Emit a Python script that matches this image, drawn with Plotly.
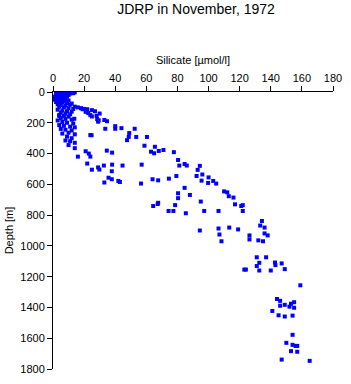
import plotly.graph_objects as go

# Silicate [µmol/l] and depth [m]
silicate = [
    2, 4, 6, 8, 10, 12, 14, 3, 5, 7, 9, 11, 13, 2, 4, 6, 8, 10, 1, 3, 5, 7, 9,
    2, 4, 6, 8, 1, 3, 5, 7, 10, 2, 4, 6, 9, 12, 3, 5, 8, 11, 14, 16, 18, 20,
    22, 25, 4, 7, 10, 13, 3, 6, 9, 12, 5, 8, 11, 4, 7, 10, 27, 30, 24, 28,
    5, 8, 12, 3, 6, 9, 13, 4, 7, 11, 14, 5, 8, 12, 10, 6, 14, 24, 9, 12, 8,
    11, 14, 10, 14, 16, 21, 23, 24, 22, 25, 29,
    19, 21, 22.7, 25, 28.4, 29, 13.7, 4, 24.8,
    29.4, 33, 34.7, 33.6, 40, 40, 44, 49, 52.5, 48.7, 53.5, 47.6, 60.4, 58.8,
    65.5, 63, 65, 34.6, 38, 32.7, 38, 44.7, 57, 37.8, 29.8, 35.7, 37.8, 33,
    42, 43, 56.6, 64,
    68, 71, 77.7, 80.4, 81.2, 84.6, 86, 94.4, 93, 92.3, 96, 95.5, 99.7, 100,
    103, 104.9, 79.3, 74.5, 67.6, 84.6, 80.4, 80.4, 88, 95, 110, 112, 113,
    116, 67.6,
    64.4, 67.3, 78.5, 74.3, 77.4, 85.4, 97.2, 106.4, 94.4, 106.4, 107, 108.3,
    113.3, 119, 117, 121, 122, 122, 123,
    134.3, 133.2, 136, 136, 138, 126.3, 126.3, 132, 135, 131, 137, 132.6, 131,
    124, 132.6, 140, 142.7, 143, 147, 149, 159,
    144, 146, 146, 149, 152, 153, 155, 155, 141, 145, 149, 154, 154, 150, 154,
    156, 157, 153, 157, 147, 165,
]
depth = [
    0, 0, 0, 0, 0, 0, 2, 10, 10, 12, 10, 10, 8, 20, 20, 22, 20, 20, 30, 30,
    32, 30, 30, 40, 42, 40, 45, 50, 55, 50, 58, 55, 65, 70, 68, 72, 75, 80,
    85, 88, 82, 95, 100, 105, 110, 112, 118, 95, 100, 105, 110, 115, 120, 125,
    128, 135, 140, 145, 150, 155, 160, 125, 140, 150, 155, 170, 175, 180, 185,
    195, 200, 205, 215, 220, 225, 230, 240, 245, 250, 265, 270, 275, 280, 290,
    300, 315, 320, 330, 345, 365, 420, 385, 400, 420, 465, 505, 490,
    112, 129, 137, 159, 176, 193, 174, 155, 281,
    184, 182, 190, 239, 222, 239, 235, 267, 239, 292, 292, 313, 292, 349,
    356, 388, 398, 381, 394, 478, 472, 478, 472, 515, 504, 557, 567, 588,
    578, 585, 595, 567,
    383, 377, 391, 442, 478, 468, 478, 480, 506, 546, 536, 576, 591, 555,
    578, 595, 546, 563, 574, 623, 658, 690, 669, 712, 646, 652, 677,
    686, 720,
    741, 728, 735, 773, 773, 788, 773, 773, 900, 887, 926, 970,
    881, 893, 730, 741, 735, 773, 1154,
    838, 868, 881, 919, 932, 932, 958, 964, 970, 1074, 1074, 1110, 1131,
    1154, 1160, 1160, 1108, 1125, 1114, 1151, 1256,
    1345, 1357, 1389, 1383, 1395, 1376, 1366, 1402, 1423, 1451, 1459, 1453,
    1578, 1630, 1643, 1650, 1650, 1684, 1688, 1739, 1747,
]

x_ticks = [0, 20, 40, 60, 80, 100, 120, 140, 160, 180]
y_ticks = [0, 200, 400, 600, 800, 1000, 1200, 1400, 1600, 1800]

FONT = "Liberation Sans, Arial, sans-serif"

fig = go.Figure(
    go.Scatter(
        x=silicate,
        y=depth,
        mode="markers",
        marker=dict(symbol="square", size=4, color="#0000ff", line=dict(width=0)),
        showlegend=False,
    )
)

fig.update_layout(
    width=351,
    height=384,
    margin=dict(l=53, r=12, t=92, b=9),
    paper_bgcolor="white",
    plot_bgcolor="white",
    font=dict(family=FONT, size=11, color="black"),
    title=dict(
        text="JDRP in November, 1972",
        x=196 / 351,
        xanchor="center",
        y=1 - 9 / 384,
        yanchor="middle",
        font=dict(family=FONT, size=14, color="black"),
    ),
    xaxis=dict(
        side="top",
        range=[0, 180],
        tickvals=x_ticks,
        ticks="outside",
        ticklen=5,
        tickcolor="black",
        showline=True,
        linecolor="black",
        linewidth=1,
        showgrid=False,
        zeroline=False,
        title=dict(text="Silicate [µmol/l]", standoff=4,
                   font=dict(family=FONT, size=11)),
        tickfont=dict(family=FONT, size=11),
    ),
    yaxis=dict(
        range=[1800, 0],
        tickvals=y_ticks,
        ticks="outside",
        ticklen=5,
        tickcolor="black",
        showline=True,
        linecolor="black",
        linewidth=1,
        showgrid=False,
        zeroline=False,
        title=dict(text="Depth [m]", standoff=4,
                   font=dict(family=FONT, size=11)),
        tickfont=dict(family=FONT, size=11),
    ),
)

fig.write_html("out.html")
